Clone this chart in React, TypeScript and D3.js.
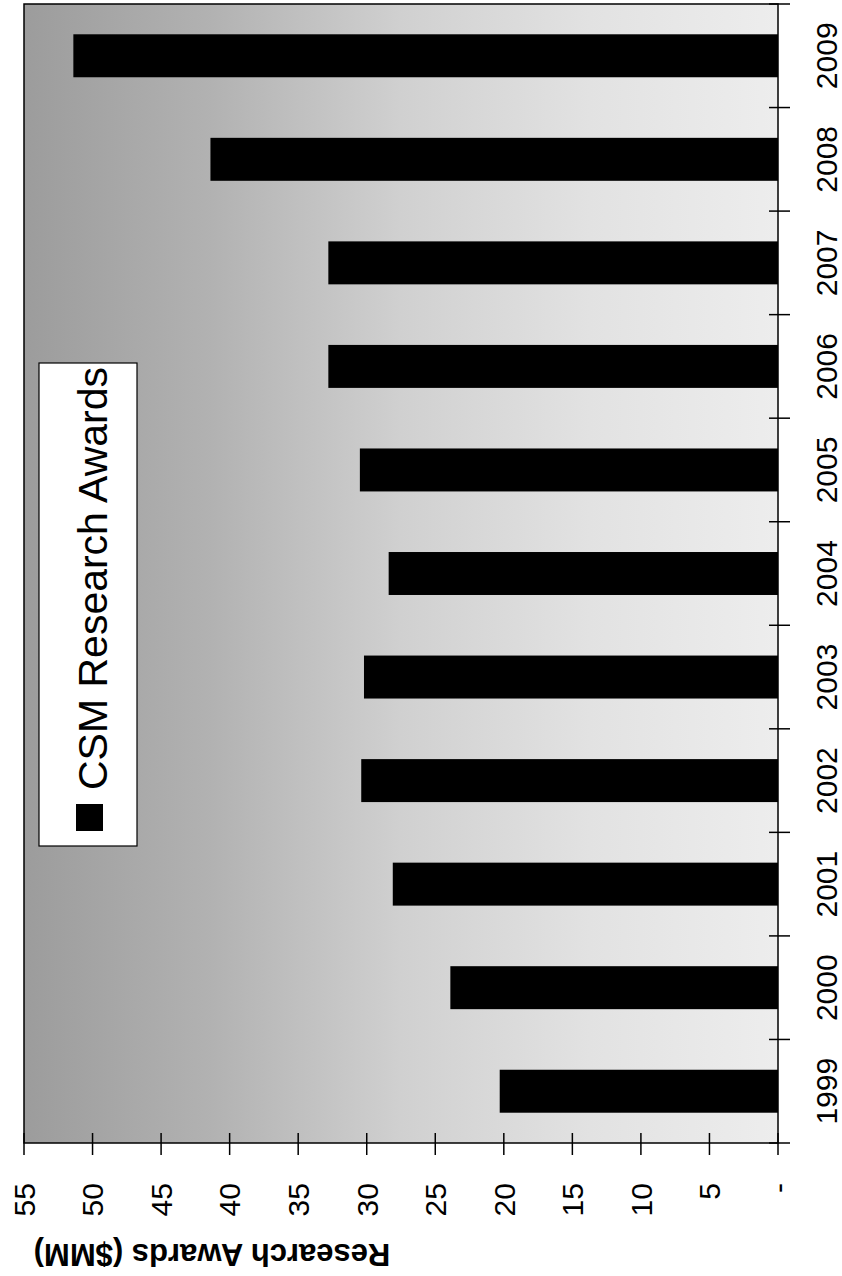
import * as React from "react"
import * as d3 from "d3"

// chart values
const years = ["1999", "2000", "2001", "2002", "2003", "2004", "2005", "2006", "2007", "2008", "2009"]
const awards = [20.3, 23.9, 28.1, 30.4, 30.2, 28.4, 30.5, 32.8, 32.8, 41.4, 51.4]
const valueTicks = [0, 5, 10, 15, 20, 25, 30, 35, 40, 45, 50, 55]
const valueTickLabels = ["-", "5", "10", "15", "20", "25", "30", "35", "40", "45", "50", "55"]
const seriesName = "CSM Research Awards"
const axisTitle = "Research Awards ($MM)"

const font = "'Liberation Sans', Arial, Helvetica, sans-serif"

export default function App() {
    // the chart is drawn as an ordinary column chart, then the whole thing is turned a quarter left
    const [W, H] = [1276, 842]
    const m = { left: 133, right: 4, top: 24, bottom: 64 }
    const [x0, x1] = [m.left, W - m.right]
    const [y0, y1] = [m.top, H - m.bottom]

    const xScale = d3
        .scaleBand()
        .domain(years)
        .range([x0, x1])
        .paddingInner(0.585)
        .paddingOuter(0.2925)

    const yScale = d3
        .scaleLinear()
        .domain([0, 55])
        .range([y1, y0])

    const step = xScale.step()
    const bounds = d3.range(years.length + 1).map(i => x0 + i * step)

    const bars = years.map((yr, i) => (
        <rect
            key={yr}
            x={xScale(yr)}
            y={yScale(awards[i])}
            width={xScale.bandwidth()}
            height={yScale(0) - yScale(awards[i])}
            fill="#000"
        />
    ))

    const catTicks = bounds.map((b, i) => (
        <line key={i} x1={b} x2={b} y1={y1 - 9} y2={y1 + 12} stroke="#000" strokeWidth={1.5} />
    ))

    const catLabels = years.map(yr => (
        <text
            key={yr}
            x={(xScale(yr) ?? 0) + xScale.bandwidth() / 2}
            y={y1 + 59}
            fontSize={30}
            textAnchor="middle"
            fontFamily={font}
            fill="#000"
        >
            {yr}
        </text>
    ))

    const valTicks = valueTicks.map((v, i) => (
        <g key={i}>
            <line x1={x0 - 12} x2={x0 + 10} y1={yScale(v)} y2={yScale(v)} stroke="#000" strokeWidth={1.5} />
            <text
                x={93}
                y={yScale(v)}
                dy="0.36em"
                fontSize={30}
                textAnchor="end"
                fontFamily={font}
                fill="#000"
            >
                {valueTickLabels[i]}
            </text>
        </g>
    ))

    // legend box
    const lg = { x: 430, y: 39, w: 483, h: 98 }

    return (
        <div style={{ position: "absolute", left: 0, top: 0, background: "#fff" }}>
            <svg width={H} height={W} style={{ display: "block" }}>
                <defs>
                    <linearGradient id="bg" x1="0" y1="0" x2="0" y2="1">
                        <stop offset="0" stopColor="#9c9c9c" />
                        <stop offset="0.25" stopColor="#b2b2b2" />
                        <stop offset="0.5" stopColor="#d0d0d0" />
                        <stop offset="0.75" stopColor="#e2e2e2" />
                        <stop offset="1" stopColor="#ededed" />
                    </linearGradient>
                </defs>
                <g transform={`translate(0,${W}) rotate(-90)`}>
                    <rect x={x0} y={y0} width={x1 - x0} height={y1 - y0} fill="url(#bg)" />
                    {bars}
                    <rect x={x0} y={y0} width={x1 - x0} height={y1 - y0} fill="none" stroke="#000" strokeWidth={1.5} />
                    {catTicks}
                    {catLabels}
                    {valTicks}
                    <text
                        transform={`translate(32,${(y0 + y1) / 2 - 189}) rotate(-90)`}
                        fontSize={31}
                        fontWeight="bold"
                        textAnchor="middle"
                        fontFamily={font}
                        fill="#000"
                    >
                        {axisTitle}
                    </text>
                    <rect x={lg.x} y={lg.y} width={lg.w} height={lg.h} fill="#fff" stroke="#000" strokeWidth={1.2} />
                    <rect x={lg.x + 15} y={76} width={27} height={27} fill="#000" />
                    <text x={lg.x + 56} y={107} fontSize={40} textLength={423} lengthAdjust="spacingAndGlyphs" fontFamily={font} fill="#000">
                        {seriesName}
                    </text>
                </g>
            </svg>
        </div>
    )
}
